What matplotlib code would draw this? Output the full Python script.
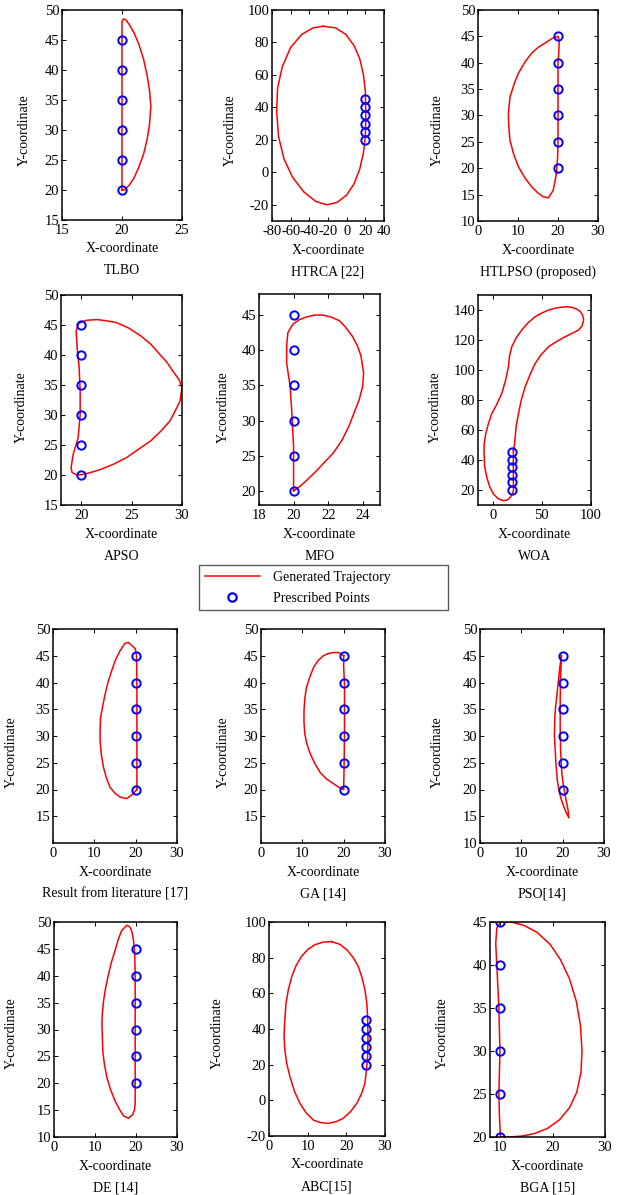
import matplotlib
matplotlib.use("Agg")
import matplotlib.pyplot as plt
from matplotlib.lines import Line2D

plt.rcParams["font.family"] = ["Liberation Serif", "DejaVu Serif"]
plt.rcParams["font.size"] = 10
plt.rcParams["axes.unicode_minus"] = False

W, H = 619, 1195
FS = 10

# prescribed precision points
pts_y = [20, 25, 30, 35, 40, 45]
pts_x20 = [20, 20, 20, 20, 20, 20]
pts_x25 = [25, 25, 25, 25, 25, 25]
pts_x10 = [10, 10, 10, 10, 10, 10]

# generated coupler curves, (x, y) per algorithm
tlbo_curve = [(20.0, 20.0), (20.0, 25.0), (20.0, 30.0), (20.0, 35.0), (20.0, 40.0), (20.0, 45.0),
              (20.0, 48.0), (20.1, 48.5), (20.3, 48.4), (20.6, 47.6), (21.0, 46.2), (21.4, 44.3),
              (21.8, 41.8), (22.1, 39.0), (22.3, 36.5), (22.4, 34.0), (22.3, 31.0), (22.1, 28.5),
              (21.8, 26.0), (21.4, 23.8), (21.0, 22.0), (20.6, 20.8), (20.2, 20.0), (20.0, 20.0)]
htrca_curve = [(-25, 90), (-12, 89), (-1, 85), (8, 78), (14, 70), (18, 60), (20, 50), (20.5, 35),
               (20, 22), (18, 12), (14, 2), (8, -7), (0, -14), (-10, -18.5), (-21, -20), (-33, -18),
               (-46, -12), (-58, -3), (-67, 8), (-73, 22), (-75, 38), (-74, 52), (-69, 65), (-60, 77),
               (-48, 85), (-36, 89), (-25, 90)]
htlpso_curve = [(19.6, 19.0), (19.9, 22.0), (20.0, 25.0), (20.0, 30.0), (20.0, 35.0), (20.0, 40.0),
                (20.2, 42.0), (20.3, 44.0), (20.0, 45.0), (18.5, 44.6), (16.7, 43.7), (15.0, 42.9),
                (13.4, 41.8), (11.7, 40.1), (10.1, 38.0), (9.0, 35.9), (8.0, 33.5), (7.6, 30.4),
                (7.7, 27.8), (8.0, 25.3), (8.9, 22.7), (10.1, 20.3), (11.7, 18.2), (13.4, 16.5),
                (15.0, 15.3), (16.3, 14.6), (17.6, 14.4), (18.8, 15.8), (19.6, 19.0)]
apso_curve = [(20.0, 45.5), (20.6, 45.8), (21.6, 45.9), (22.5, 45.7), (23.5, 45.4), (24.7, 44.5),
              (25.9, 43.2), (26.9, 41.8), (27.8, 40.1), (28.5, 38.8), (29.1, 37.3), (29.7, 35.9),
              (30.0, 34.6), (29.8, 32.3), (29.3, 30.6), (28.8, 29.0), (27.9, 27.3), (26.9, 25.7),
              (25.7, 24.3), (24.5, 22.9), (23.2, 21.8), (21.9, 20.9), (20.9, 20.4), (20.2, 20.1),
              (19.6, 20.0), (19.1, 20.4), (19.0, 21.2), (19.2, 23.4), (19.7, 26.2), (19.9, 30.1),
              (19.9, 34.0), (19.8, 37.9), (19.6, 41.2), (19.5, 44.0), (19.7, 45.1), (20.0, 45.5)]
mfo_curve = [(20.0, 20.0), (20.35, 20.6), (20.8, 21.6), (21.3, 22.8), (21.8, 24.1), (22.3, 25.4),
             (22.8, 27.2), (23.2, 29.2), (23.5, 31.1), (23.8, 33.0), (24.0, 34.9), (24.05, 36.8),
             (23.9, 39.2), (23.7, 40.6), (23.4, 42.0), (23.0, 43.3), (22.65, 44.2), (22.2, 44.7),
             (21.7, 45.0), (21.2, 45.0), (20.7, 44.7), (20.3, 44.3), (19.96, 43.7), (19.67, 42.5),
             (19.6, 40.6), (19.6, 38.2), (19.7, 36.5), (19.8, 34.9), (19.9, 31.1), (20.0, 26.3),
             (20.0, 20.0)]
woa_curve = [(21.0, 46.3), (22.1, 50.0), (22.8, 55.3), (24.0, 63.0), (26.2, 70.9), (29.0, 80.0),
             (33.0, 88.8), (38.0, 97.0), (43.2, 104.4), (49.0, 110.0), (56.8, 115.5), (65.0, 119.0),
             (73.8, 122.2), (81.0, 124.5), (87.4, 126.7), (91.0, 129.5), (92.5, 133.4), (91.5, 136.5),
             (89.1, 139.0), (85.0, 140.8), (80.6, 141.7), (75.5, 142.2), (70.4, 141.9), (63.5, 141.2),
             (56.8, 140.0), (50.0, 138.0), (43.2, 135.6), (36.0, 131.5), (29.6, 126.7), (24.0, 121.5),
             (19.4, 115.5), (17.0, 109.0), (16.0, 102.1), (13.0, 93.0), (9.2, 84.3), (4.0, 77.0),
             (-1.0, 70.9), (-4.5, 64.0), (-7.1, 57.5), (-8.8, 50.5), (-8.8, 44.1), (-8.3, 36.0),
             (-6.1, 28.5), (-3.0, 22.0), (0.7, 17.3), (5.5, 14.2), (10.9, 12.9), (15.0, 13.3),
             (17.7, 15.1), (20.0, 17.5), (21.1, 19.6), (21.0, 30.0), (21.0, 46.3)]
lit_curve = [(20.3, 20.0), (20.3, 25.0), (20.3, 30.0), (20.3, 35.0), (20.3, 40.0), (20.2, 45.0),
             (19.9, 46.3), (19.1, 46.9), (18.2, 47.5), (17.4, 47.3), (16.2, 45.9), (15.1, 44.2),
             (14.2, 42.2), (13.3, 40.0), (12.6, 37.8), (12.0, 35.5), (11.5, 33.4), (11.4, 31.0),
             (11.4, 29.1), (11.7, 26.5), (12.2, 24.2), (12.9, 22.2), (13.8, 20.4), (15.0, 19.3),
             (16.2, 18.6), (17.8, 18.3), (19.1, 19.0), (19.8, 19.6), (20.3, 20.0)]
ga_curve = [(20.0, 45.0), (18.8, 45.6), (17.5, 45.6), (16.2, 45.4), (15.1, 45.0), (13.8, 44.1),
            (12.7, 42.8), (11.8, 41.0), (11.0, 39.1), (10.6, 37.0), (10.4, 34.7), (10.4, 32.5),
            (10.6, 30.4), (11.1, 28.5), (11.9, 26.7), (13.0, 24.9), (14.3, 23.2), (15.8, 22.0),
            (17.5, 21.1), (18.7, 20.5), (19.5, 20.1), (20.0, 20.0), (20.1, 24.2), (20.2, 30.4),
            (20.2, 34.7), (20.2, 39.7), (20.0, 42.8), (20.0, 45.0)]
pso_curve = [(19.7, 45.0), (19.3, 42.8), (18.8, 39.1), (18.3, 35.5), (18.1, 33.5), (18.0, 30.0),
             (18.2, 27.3), (18.4, 24.5), (18.7, 21.7), (19.2, 19.5), (19.7, 18.0), (20.3, 16.8),
             (20.9, 15.6), (21.5, 14.7), (21.4, 15.5), (21.3, 16.2), (20.9, 17.8), (20.5, 19.3),
             (20.1, 21.2), (19.8, 23.0), (19.5, 27.4), (19.4, 31.8), (19.4, 36.8), (19.5, 41.0),
             (19.7, 45.0)]
de_curve = [(19.8, 20.0), (19.8, 25.0), (19.8, 30.0), (19.8, 35.0), (19.8, 40.0), (19.7, 44.0),
            (19.4, 46.5), (19.0, 48.2), (18.7, 48.8), (18.3, 49.2), (17.8, 49.4), (16.5, 48.4),
            (15.6, 46.6), (14.9, 44.7), (14.0, 42.5), (13.3, 40.3), (12.6, 37.8), (12.1, 35.4),
            (11.8, 33.2), (11.7, 31.0), (11.8, 28.5), (11.9, 26.0), (12.3, 23.5), (12.9, 21.1),
            (13.8, 18.8), (14.9, 16.7), (16.0, 15.1), (17.0, 13.9), (18.2, 13.5), (19.2, 14.2),
            (19.6, 15.0), (19.8, 16.1), (19.8, 20.0)]
abc_curve = [(16.2, 89.0), (18.3, 87.5), (20.1, 84.5), (21.8, 80.0), (23.1, 75.1), (24.1, 68.5),
             (24.8, 62.0), (25.3, 54.5), (25.5, 47.0), (25.6, 35.0), (25.5, 24.5), (25.2, 17.0),
             (24.8, 9.6), (23.9, 3.5), (22.7, -1.7), (21.1, -6.3), (19.2, -10.1), (17.3, -12.0),
             (15.3, -12.9), (13.3, -12.5), (11.5, -11.1), (9.6, -7.0), (8.0, -1.7), (6.6, 5.0),
             (5.4, 13.3), (4.6, 20.5), (4.1, 28.3), (3.9, 35.8), (4.0, 42.0), (4.4, 54.5),
             (5.0, 62.0), (5.9, 69.5), (7.0, 75.5), (8.4, 80.7), (10.0, 84.5), (11.9, 87.3),
             (14.0, 88.7), (16.2, 89.0)]
bga_curve = [(10.0, 45.0), (12.0, 45.0), (14.5, 44.6), (17.0, 43.8), (19.5, 42.4), (21.5, 40.6),
             (23.2, 38.4), (24.5, 35.8), (25.3, 33.0), (25.6, 30.0), (25.4, 27.5), (24.6, 25.2),
             (23.2, 23.4), (21.3, 22.0), (19.0, 21.0), (16.5, 20.4), (14.0, 20.1), (11.5, 20.0),
             (10.0, 20.0), (9.8, 22.5), (9.7, 25.0), (9.8, 27.5), (9.9, 30.0), (9.8, 32.5),
             (9.7, 35.0), (9.5, 37.5), (9.3, 40.0), (9.1, 42.5), (9.3, 44.3), (10.0, 45.0)]

names = ["TLBO", "HTRCA [22]", "HTLPSO (proposed)",
         "APSO", "MFO", "WOA",
         "Result from literature [17]", "GA [14]", "PSO[14]",
         "DE [14]", "ABC[15]", "BGA [15]"]
curves = [tlbo_curve, htrca_curve, htlpso_curve, apso_curve, mfo_curve, woa_curve,
          lit_curve, ga_curve, pso_curve, de_curve, abc_curve, bga_curve]
points_x = [pts_x20, pts_x20, pts_x20, pts_x20, pts_x20, pts_x20,
            pts_x20, pts_x20, pts_x20, pts_x20, pts_x25, pts_x10]

# axis limits and ticks per panel
xlims = [(15, 25), (-80, 40), (0, 30), (18, 30), (18, 25), (-15, 100),
         (0, 30), (0, 30), (0, 30), (0, 30), (0, 30), (8, 30)]
ylims = [(15, 50), (-30, 100), (10, 50), (15, 50), (18, 48), (10, 150),
         (10, 50), (10, 50), (10, 50), (10, 50), (-20, 100), (20, 45)]
xticks = [[15, 20, 25], list(range(-80, 41, 20)), [0, 10, 20, 30], [20, 25, 30],
          [18, 20, 22, 24], [0, 50, 100], [0, 10, 20, 30], [0, 10, 20, 30],
          [0, 10, 20, 30], [0, 10, 20, 30], [0, 10, 20, 30], [10, 20, 30]]
yticks = [list(range(15, 51, 5)), list(range(-20, 101, 20)), list(range(10, 51, 5)),
          list(range(15, 51, 5)), list(range(20, 46, 5)), list(range(20, 141, 20)),
          list(range(15, 51, 5)), list(range(15, 51, 5)), list(range(10, 51, 5)),
          list(range(10, 51, 5)), list(range(-20, 101, 20)), list(range(20, 46, 5))]

# panel boxes in pixels: left, top, right, bottom
boxes = [(62, 10, 182, 220), (272, 10, 384, 221), (478, 10, 598, 221),
         (61, 295, 182, 505), (259, 294, 380, 505), (478, 295, 591, 505),
         (53, 629, 177, 843), (261, 629, 385, 843), (480, 629, 604, 843),
         (54, 922, 177, 1137), (269, 922, 385, 1136), (490, 922, 605, 1137)]
ylab_x = [24, 230, 437, 21, 223, 435, 11, 223, 437, 11, 217, 442]
ylab_y = [130, 130, 130, 407, 407, 407, 752, 752, 752, 1033, 1033, 1033]

fig = plt.figure(figsize=(W / 100, H / 100), dpi=100)


def fx(px):
    return px / W


def fy(py):
    return 1 - py / H


for i, curve in enumerate(curves):
    l, t, r, b = boxes[i]
    ax = fig.add_axes([fx(l), fy(b), (r - l) / W, (b - t) / H])
    xs, ys = zip(*curve)
    ax.plot(xs, ys, color="red", lw=1.1)
    ax.plot(points_x[i], pts_y, "o", mfc="none", mec="blue", ms=6, mew=1.4)
    ax.set_xlim(*xlims[i])
    ax.set_ylim(*ylims[i])
    ax.set_xticks(xticks[i])
    ax.set_yticks(yticks[i])
    ax.tick_params(direction="in", top=True, right=True, length=3, width=0.7,
                   labelsize=FS + 0.5)
    ax.tick_params(axis="x", pad=3)
    ax.tick_params(axis="y", pad=2)
    for s in ax.spines.values():
        s.set_linewidth(1.1)
    cx = (l + r) / 2
    fig.text(fx(cx), fy(b + 29), "X-coordinate", ha="center", va="center", fontsize=FS)
    fig.text(fx(cx), fy(b + 51), names[i], ha="center", va="center", fontsize=FS)
    fig.text(fx(ylab_x[i]), fy(ylab_y[i]), "Y-coordinate", rotation=90,
             ha="center", va="center", fontsize=FS)

handles = [Line2D([], [], color="red", lw=1.1),
           Line2D([], [], ls="none", marker="o", mfc="none", mec="blue", ms=6, mew=1.6)]
leg = fig.legend(handles, ["Generated Trajectory", "Prescribed Points"],
                 loc="upper left", mode="expand",
                 bbox_to_anchor=(fx(199), fy(613), 249 / W, 48 / H),
                 fancybox=False, edgecolor="0.35", framealpha=1, fontsize=FS,
                 handlelength=4.0, handletextpad=0.9, labelspacing=0.6,
                 borderpad=0.4, borderaxespad=0)
leg.get_frame().set_linewidth(1.0)

fig.savefig("out.png", dpi=100)
